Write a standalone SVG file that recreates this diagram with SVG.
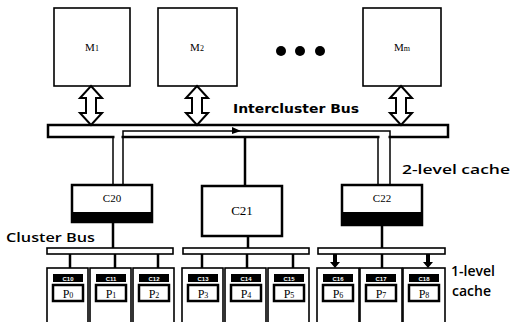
<svg xmlns="http://www.w3.org/2000/svg" width="512" height="322" viewBox="0 0 512 322">
<style>
.box{fill:#fff;stroke:#000;stroke-width:1.6}
.thick{fill:#fff;stroke:#000;stroke-width:2.5}
.ln{stroke:#000;stroke-width:2.5;fill:none}
.thin{stroke:#000;stroke-width:1.5;fill:none}
.band{fill:#000}
.ser{font-family:"Liberation Serif",serif;fill:#000;text-anchor:middle}
.lab{font-family:"DejaVu Sans","Liberation Sans",sans-serif;fill:#000;font-weight:bold}
.lab2{font-family:"Open Sans","DejaVu Sans",sans-serif;fill:#000;font-weight:600}
.cl{font-family:"Liberation Sans",sans-serif;font-size:6px;fill:#fff;text-anchor:middle;font-weight:bold}
.dar{fill:#fff;stroke:#000;stroke-width:2;stroke-linejoin:miter}
</style>
<rect width="512" height="322" fill="#fff"/>
<g id="M1"><rect class="box" x="54" y="8" width="76" height="78"/><text class="ser" x="92" y="51" font-size="11">M<tspan font-size="8">1</tspan></text></g>
<g id="M2"><rect class="box" x="158" y="8" width="79" height="78"/><text class="ser" x="197" y="51" font-size="11">M<tspan font-size="8">2</tspan></text></g>
<g id="dots"><circle cx="281" cy="51" r="5"/><circle cx="300" cy="51" r="5"/><circle cx="320" cy="51" r="5"/></g>
<g id="Mm"><rect class="box" x="363" y="8" width="78" height="78"/><text class="ser" x="402" y="51" font-size="11">M<tspan font-size="8">m</tspan></text></g>
<g id="intercluster-bus">
<rect class="thick" x="48" y="125" width="400" height="12" stroke-width="3"/>
<rect x="114.5" y="135" width="7" height="4" fill="#fff"/>
<rect x="379.5" y="135" width="9" height="4" fill="#fff"/>
<text class="lab" x="233" y="113" font-size="12" textLength="126" lengthAdjust="spacingAndGlyphs">Intercluster Bus</text>
</g>
<g id="connectors">
<path class="dar" d="M91,86 L102,98 L96,98 L96,113 L102,113 L91,125 L80,113 L86,113 L86,98 L80,98 Z"/>
<path class="dar" d="M197,86 L208,98 L202,98 L202,113 L208,113 L197,125 L186,113 L192,113 L192,98 L186,98 Z"/>
<path class="dar" d="M401,86 L412,98 L406,98 L406,113 L412,113 L401,125 L390,113 L396,113 L396,98 L390,98 Z"/>
<path class="thin" d="M113,136 V185"/>
<path class="thin" d="M123,185 V131 H390 V185"/>
<path class="thin" d="M378,136 V185"/>
<path d="M232,127 L241,131 L232,134 Z"/>
<path class="ln" d="M245,137 V186"/>
<path class="ln" d="M113,222 V248 M248,236 V248 M382,225 V248"/>
<path class="ln" d="M70,254 V268 M115,254 V268 M158,254 V268 M202,254 V268 M247,254 V268 M293,254 V268 M382,254 V268"/>
<path class="thin" d="M335,251 H428"/>
<path d="M333,251 h4 v11 h3 l-5,6 l-5,-6 h3 Z M426,251 h4 v11 h3 l-5,6 l-5,-6 h3 Z"/>
</g>
<g id="C20"><rect class="thick" x="72" y="185" width="80" height="37"/><rect class="band" x="72" y="212" width="80" height="10"/><text class="ser" x="112" y="202" font-size="11">C20</text></g>
<g id="C21"><rect class="thick" x="202" y="186" width="80" height="50"/><text class="ser" x="242" y="215" font-size="13">C21</text></g>
<g id="C22"><rect class="thick" x="342" y="185" width="80" height="40"/><rect class="band" x="342" y="212" width="80" height="13"/><text class="ser" x="382" y="202" font-size="11">C22</text></g>
<text class="lab2" x="402" y="174" font-size="12.5" textLength="108" lengthAdjust="spacingAndGlyphs">2-level cache</text>
<text class="lab2" x="6" y="242" font-size="13" textLength="89" lengthAdjust="spacingAndGlyphs">Cluster Bus</text>
<g id="cluster-buses">
<rect class="box" x="47" y="248" width="126" height="6"/>
<rect class="box" x="183" y="248" width="126" height="6"/>
<rect class="box" x="318" y="248" width="127" height="6"/>
</g>
<g id="P0"><rect class="box" x="47" y="268" width="41" height="60"/><rect class="band" x="53" y="274" width="30" height="8"/><text class="cl" x="68" y="280.5">C10</text><rect class="thick" x="53" y="285" width="30" height="16"/><text class="ser" x="68" y="297.5" font-size="12">P<tspan font-size="8">0</tspan></text></g>
<g id="P1"><rect class="box" x="90" y="268" width="41" height="60"/><rect class="band" x="96" y="274" width="30" height="8"/><text class="cl" x="111" y="280.5">C11</text><rect class="thick" x="96" y="285" width="30" height="16"/><text class="ser" x="111" y="297.5" font-size="12">P<tspan font-size="8">1</tspan></text></g>
<g id="P2"><rect class="box" x="133" y="268" width="41" height="60"/><rect class="band" x="139" y="274" width="30" height="8"/><text class="cl" x="154" y="280.5">C12</text><rect class="thick" x="139" y="285" width="30" height="16"/><text class="ser" x="154" y="297.5" font-size="12">P<tspan font-size="8">2</tspan></text></g>
<g id="P3"><rect class="box" x="182" y="268" width="41" height="60"/><rect class="band" x="188" y="274" width="30" height="8"/><text class="cl" x="203" y="280.5">C13</text><rect class="thick" x="188" y="285" width="30" height="16"/><text class="ser" x="203" y="297.5" font-size="12">P<tspan font-size="8">3</tspan></text></g>
<g id="P4"><rect class="box" x="225" y="268" width="41" height="60"/><rect class="band" x="231" y="274" width="30" height="8"/><text class="cl" x="246" y="280.5">C14</text><rect class="thick" x="231" y="285" width="30" height="16"/><text class="ser" x="246" y="297.5" font-size="12">P<tspan font-size="8">4</tspan></text></g>
<g id="P5"><rect class="box" x="268" y="268" width="41" height="60"/><rect class="band" x="274" y="274" width="30" height="8"/><text class="cl" x="289" y="280.5">C15</text><rect class="thick" x="274" y="285" width="30" height="16"/><text class="ser" x="289" y="297.5" font-size="12">P<tspan font-size="8">5</tspan></text></g>
<g id="P6"><rect class="box" x="317" y="268" width="42" height="60"/><rect class="band" x="323" y="274" width="30" height="8"/><text class="cl" x="338" y="280.5">C16</text><rect class="thick" x="323" y="285" width="30" height="16"/><text class="ser" x="338" y="297.5" font-size="12">P<tspan font-size="8">6</tspan></text></g>
<g id="P7"><rect class="box" x="360" y="268" width="42" height="60"/><rect class="band" x="366" y="274" width="30" height="8"/><text class="cl" x="381" y="280.5">C17</text><rect class="thick" x="366" y="285" width="30" height="16"/><text class="ser" x="381" y="297.5" font-size="12">P<tspan font-size="8">7</tspan></text></g>
<g id="P8"><rect class="box" x="403" y="268" width="42" height="60"/><rect class="band" x="409" y="274" width="30" height="8"/><text class="cl" x="424" y="280.5">C18</text><rect class="thick" x="409" y="285" width="30" height="16"/><text class="ser" x="424" y="297.5" font-size="12">P<tspan font-size="8">8</tspan></text></g>
<text class="lab2" x="451" y="276" font-size="14">1-level</text>
<text class="lab2" x="452" y="296" font-size="14">cache</text>
</svg>
